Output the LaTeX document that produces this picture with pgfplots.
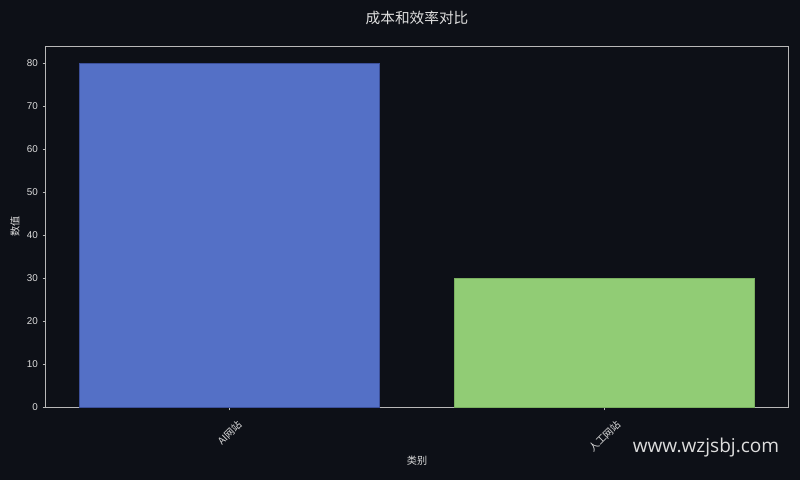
\documentclass[border=0pt]{standalone}
\usepackage{pgfplots}
\pgfplotsset{compat=1.18}
\usepackage{graphicx}
\usepackage{fontspec}
\setmainfont{Liberation Sans}
\newfontfamily\cjk{Noto Sans CJK SC}
\newfontfamily\wm{Open Sans}
\definecolor{bg}{HTML}{0D1017}
\definecolor{barblue}{HTML}{5470C6}
\definecolor{edgeblue}{HTML}{3C509A}
\definecolor{bargreen}{HTML}{91CC75}
\definecolor{edgegreen}{HTML}{7AB060}
\definecolor{spine}{HTML}{B8B8B8}
\definecolor{txt}{HTML}{DDDDDD}
\begin{document}
\begin{tikzpicture}
% 1 px = 0.75pt ; picture 800x480 px
\fill[bg] (-34.5pt,-54.75pt) rectangle (565.5pt,305.25pt);
\begin{axis}[
    width=556.5pt, height=270.75pt, scale only axis,
    xmin=-0.49, xmax=1.49, ymin=0, ymax=84,
    xtick={0,1},
    xticklabels={{\rotatebox{45}{\cjk AI网站}},{\rotatebox{45}{\cjk 人工网站}}},
    ytick={0,10,...,80},
    tick align=outside, tick pos=left,
    major tick length=2.6pt,
    axis line style={draw=spine, line width=0.75pt},
    tick style={draw=spine, line width=0.6pt},
    /pgf/number format/assume math mode=true,
    ticklabel style={text=txt, font=\fontsize{7.4}{8}\selectfont},
    xticklabel style={anchor=north, yshift=-3pt},
    title={\cjk 成本和效率对比},
    title style={at={(axis description cs:0.5,1)}, anchor=center, yshift=15pt,
        text=txt, font=\fontsize{11}{12}\selectfont},
    ylabel={\cjk 数值},
    ylabel style={at={(axis description cs:0,0.5)}, anchor=center, yshift=23.25pt,
        text=txt, font=\fontsize{7.6}{8}\selectfont},
    xlabel={\cjk 类别},
    xlabel style={at={(axis description cs:0.5,0)}, anchor=center, yshift=-40.5pt,
        text=txt, font=\fontsize{7.6}{8}\selectfont},
    ]
\addplot[ybar, bar width=0.8, bar shift=0pt, fill=barblue, draw=edgeblue, line width=0.75pt]
    coordinates {(0,80)};
\addplot[ybar, bar width=0.8, bar shift=0pt, fill=bargreen, draw=edgegreen, line width=0.75pt]
    coordinates {(1,30)};
\end{axis}
\node[text=txt, font=\fontsize{14.3}{15}\selectfont\wm] at (495pt,-30.75pt) {www.wzjsbj.com};
\end{tikzpicture}
\end{document}
